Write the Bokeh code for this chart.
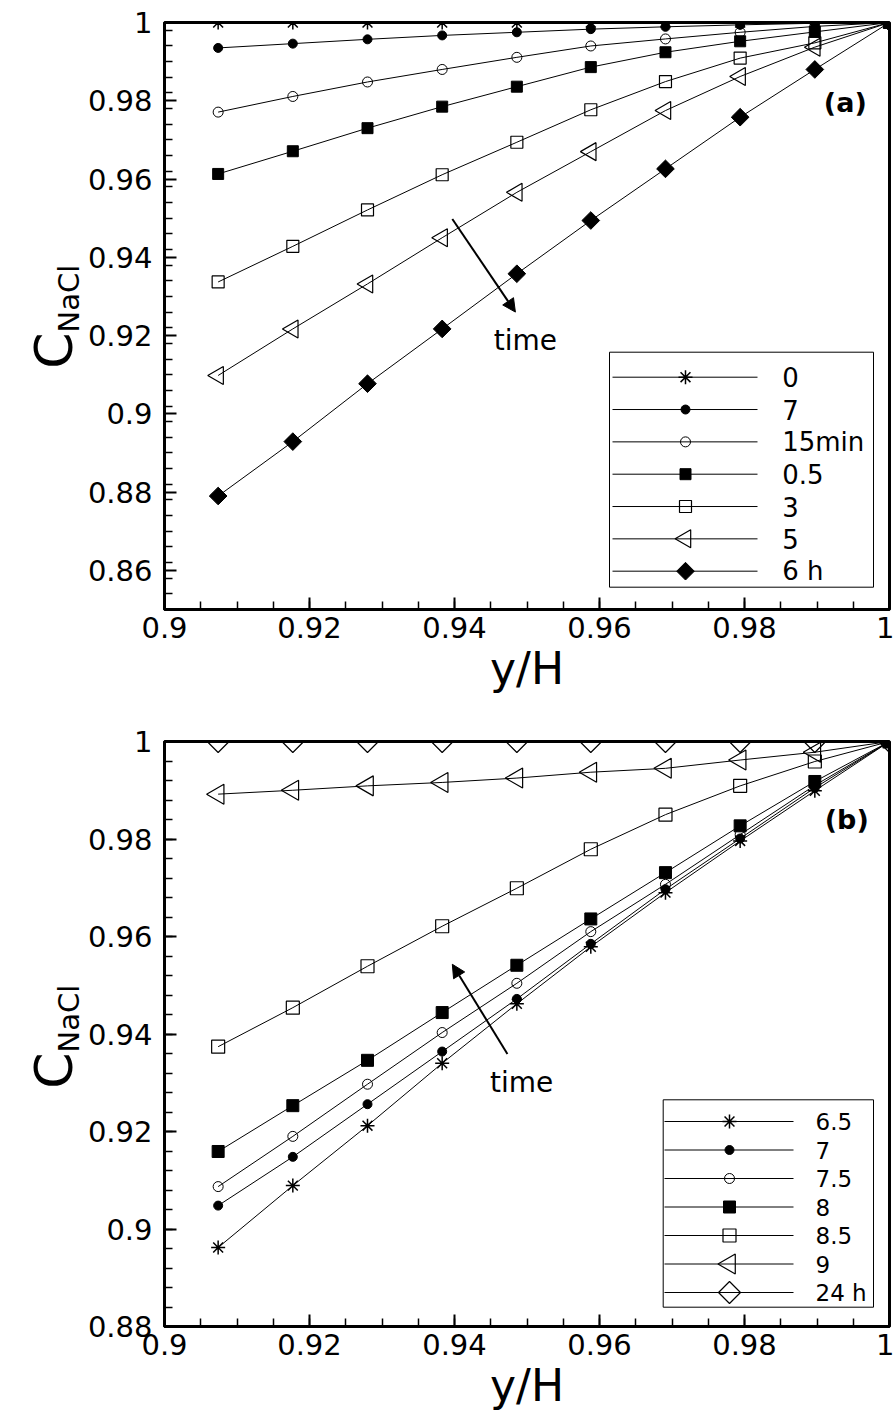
import math
from bokeh.plotting import figure
from bokeh.layouts import column, row
from bokeh.models import Range1d, FixedTicker, Label, Arrow, NormalHead
from bokeh.core.properties import value
from bokeh.embed import file_html
from bokeh.resources import INLINE

FONT = "DejaVu Sans"

# ---------------- data ----------------
y_over_H = [0.9074, 0.9177, 0.9280, 0.9383, 0.9486, 0.9588, 0.9691, 0.9794, 0.9897, 1.0]

# panel (a)
a_labels = ["0", "7", "15min", "0.5", "3", "5", "6 h"]
a_t0 = [1.0, 1.0, 1.0, 1.0, 1.0, 1.0, 1.0, 1.0, 1.0, 1.0]
a_t7min = [0.9935, 0.9946, 0.9957, 0.9967, 0.9975, 0.9983, 0.9989, 0.9994, 0.9998, 1.0]
a_t15min = [0.9771, 0.9811, 0.9848, 0.9880, 0.9911, 0.9940, 0.9958, 0.9975, 0.9990, 1.0]
a_t05h = [0.9613, 0.9671, 0.9730, 0.9785, 0.9836, 0.9886, 0.9924, 0.9952, 0.9976, 1.0]
a_t3h = [0.9337, 0.9428, 0.9521, 0.9611, 0.9694, 0.9777, 0.9849, 0.9909, 0.9948, 1.0]
a_t5h = [0.9098, 0.9217, 0.9332, 0.9450, 0.9566, 0.9670, 0.9775, 0.9862, 0.9937, 1.0]
a_t6h = [0.8790, 0.8929, 0.9077, 0.9217, 0.9358, 0.9494, 0.9626, 0.9758, 0.9880, 1.0]

# panel (b)
b_labels = ["6.5", "7", "7.5", "8", "8.5", "9", "24 h"]
b_t65h = [0.8962, 0.9089, 0.9212, 0.9340, 0.9462, 0.9579, 0.9690, 0.9796, 0.9899, 1.0]
b_t7h = [0.9048, 0.9148, 0.9256, 0.9364, 0.9472, 0.9585, 0.9697, 0.9801, 0.9905, 1.0]
b_t75h = [0.9087, 0.9190, 0.9297, 0.9403, 0.9504, 0.9610, 0.9707, 0.9809, 0.9910, 1.0]
b_t8h = [0.9159, 0.9253, 0.9346, 0.9444, 0.9541, 0.9636, 0.9731, 0.9827, 0.9918, 1.0]
b_t85h = [0.9374, 0.9454, 0.9539, 0.9621, 0.9699, 0.9779, 0.9850, 0.9909, 0.9959, 1.0]
b_t9h = [0.9892, 0.9900, 0.9909, 0.9916, 0.9925, 0.9937, 0.9945, 0.9962, 0.9978, 1.0]
b_t24h = [1.0, 1.0, 1.0, 1.0, 1.0, 1.0, 1.0, 1.0, 1.0, 1.0]

# ticks
x_ticks = [0.9, 0.92, 0.94, 0.96, 0.98, 1.0]
x_tick_labels = ["0.9", "0.92", "0.94", "0.96", "0.98", "1"]
a_y_ticks = [0.86, 0.88, 0.9, 0.92, 0.94, 0.96, 0.98, 1.0]
a_y_tick_labels = ["0.86", "0.88", "0.9", "0.92", "0.94", "0.96", "0.98", "1"]
b_y_ticks = [0.88, 0.9, 0.92, 0.94, 0.96, 0.98, 1.0]
b_y_tick_labels = ["0.88", "0.9", "0.92", "0.94", "0.96", "0.98", "1"]

x_minor = [round(0.9 + 0.005 * i, 4) for i in range(21)]
a_y_minor = [round(0.85 + 0.004 * i, 4) for i in range(38)]
b_y_minor = [round(0.88 + 0.004 * i, 4) for i in range(31)]

# marker styles: (marker, size, filled, line_width, angle)
a_styles = [
    ("asterisk", 14, False, 1.5, 0.0),
    ("circle", 9, True, 1.0, 0.0),
    ("circle", 10, False, 1.0, 0.0),
    ("square", 11, True, 1.0, 0.0),
    ("square", 12, False, 1.2, 0.0),
    ("triangle", 18, False, 1.2, math.pi / 2),
    ("square", 12.5, True, 1.0, math.pi / 4),
]
b_styles = [
    ("asterisk", 14, False, 1.5, 0.0),
    ("circle", 9, True, 1.0, 0.0),
    ("circle", 10, False, 1.0, 0.0),
    ("square", 12, True, 1.0, 0.0),
    ("square", 13, False, 1.2, 0.0),
    ("triangle", 20, False, 1.2, math.pi / 2),
    ("square", 15.5, False, 1.2, math.pi / 4),
]

X0, X1 = 0.9, 1.0
FRAME_W = 725
SIDE_W = 80          # narrow strip on the left that holds the C_NaCl title
A_TOP, A_H, A_BOT = 22, 587, 95
B_TOP, B_H, B_BOT = 37, 585, 90


def px_x(off):
    """horizontal pixel offset from the frame's left edge -> data x"""
    return X0 + off / FRAME_W * (X1 - X0)


def px_y(off, y0, y1, h):
    """pixel offset down from the frame's top edge -> data y"""
    return y1 - off / h * (y1 - y0)


def style_fig(p, yticks, ylabels, yminor):
    p.xaxis.ticker = FixedTicker(ticks=x_ticks, minor_ticks=x_minor)
    p.xaxis.major_label_overrides = dict(zip(x_ticks, x_tick_labels))
    p.yaxis.ticker = FixedTicker(ticks=yticks, minor_ticks=yminor)
    p.yaxis.major_label_overrides = dict(zip(yticks, ylabels))
    for ax in p.axis:
        ax.major_tick_in = 12
        ax.major_tick_out = 0
        ax.minor_tick_in = 8
        ax.minor_tick_out = 0
        ax.major_tick_line_width = 2
        ax.minor_tick_line_width = 1.5
        ax.major_tick_line_color = "black"
        ax.minor_tick_line_color = "black"
        ax.axis_line_width = 3
        ax.axis_line_color = "black"
        ax.major_label_text_font = FONT
        ax.major_label_text_font_size = "29px"
        ax.major_label_text_color = "black"
    p.yaxis.major_label_standoff = 12
    p.xaxis.major_label_standoff = 7
    p.xaxis.axis_label = "y/H"
    p.xaxis.axis_label_text_font = FONT
    p.xaxis.axis_label_text_font_size = "44px"
    p.xaxis.axis_label_text_font_style = "normal"
    p.xaxis.axis_label_text_color = "black"
    p.xaxis.axis_label_standoff = 2
    p.xgrid.visible = False
    p.ygrid.visible = False
    p.outline_line_color = "black"
    p.outline_line_width = 3
    p.background_fill_color = "white"
    p.border_fill_color = "white"


def add_series(p, series, styles):
    for ys, st in zip(series, styles):
        marker, size, filled, lw, ang = st
        p.line(y_over_H, ys, line_color="black", line_width=1)
        p.scatter(y_over_H, ys, marker=marker, size=size, angle=ang,
                  line_color="black", line_width=lw,
                  fill_color="black" if filled else None)


def add_legend(p, labels, styles, yr, h, box, rows0, pitch, line_l, line_r, mark_x, text_x, fs):
    y0, y1 = yr
    bl, br, bt, bb = box
    p.quad(left=[px_x(bl)], right=[px_x(br)], top=[px_y(bt, y0, y1, h)],
           bottom=[px_y(bb, y0, y1, h)], fill_color="white", line_color="black", line_width=1)
    rows = [px_y(rows0 + pitch * i, y0, y1, h) for i in range(len(labels))]
    p.segment(x0=[px_x(line_l)] * len(rows), x1=[px_x(line_r)] * len(rows), y0=rows, y1=rows,
              line_color="black", line_width=1)
    for ry, st in zip(rows, styles):
        marker, size, filled, lw, ang = st
        p.scatter([px_x(mark_x)], [ry], marker=marker, size=size, angle=ang,
                  line_color="black", line_width=lw,
                  fill_color="black" if filled else None)
    p.text(x=[px_x(text_x)] * len(rows), y=rows, text=labels, text_font=value(FONT),
           text_font_size=fs, text_align="left", text_baseline="middle", text_color="black")


def side_title(top, h, bot, c_center_off, sub_start_off):
    """narrow strip with the rotated C_NaCl axis title; its frame lines up with the
    panel's frame, coordinates are pixels measured up from the frame bottom"""
    s = figure(frame_width=SIDE_W, frame_height=h, min_border_left=0, min_border_right=0,
               min_border_top=top, min_border_bottom=bot,
               x_range=Range1d(0, SIDE_W), y_range=Range1d(0, h),
               output_backend="svg", toolbar_location=None,
               x_axis_location=None, y_axis_location=None)
    s.xgrid.visible = False
    s.ygrid.visible = False
    s.outline_line_color = None
    s.background_fill_color = "white"
    s.border_fill_color = "white"
    s.text(x=[53], y=[h - c_center_off], text=["C"], angle=math.pi / 2,
           text_font=value(FONT), text_font_size="52px", text_align="center",
           text_baseline="alphabetic", text_color="black")
    s.text(x=[68], y=[h - sub_start_off], text=["NaCl"], angle=math.pi / 2,
           text_font=value(FONT), text_font_size="29px", text_align="left",
           text_baseline="alphabetic", text_color="black")
    return s


# ---------------- panel (a) ----------------
A_Y = (0.85, 1.0)
pa = figure(frame_width=FRAME_W, frame_height=A_H, min_border_left=164 - SIDE_W,
            min_border_right=5, min_border_top=A_TOP, min_border_bottom=A_BOT,
            x_range=Range1d(X0, X1), y_range=Range1d(*A_Y),
            output_backend="svg", toolbar_location=None)
style_fig(pa, a_y_ticks, a_y_tick_labels, a_y_minor)
add_series(pa, [a_t0, a_t7min, a_t15min, a_t05h, a_t3h, a_t5h, a_t6h], a_styles)
add_legend(pa, a_labels, a_styles, A_Y, A_H, (445, 709, 329.7, 564.7), 354.7, 32.33,
           448, 593, 521, 617.7, "26px")
pa.add_layout(Arrow(end=NormalHead(size=13, fill_color="black", line_color="black"),
                    x_start=0.9397, y_start=0.9498, x_end=0.9484, y_end=0.9260,
                    line_width=2, line_color="black"))
pa.add_layout(Label(x=0.9454, y=0.9188, text="time", text_font=FONT, text_font_size="28px",
                    text_align="left", text_baseline="alphabetic", text_color="black"))
pa.add_layout(Label(x=0.9939, y=0.9796, text="(a)", text_font=FONT, text_font_size="27px",
                    text_font_style="bold", text_align="center", text_baseline="middle",
                    text_color="black"))
# C centre at page y 350, subscript starts at page y 332
sa = side_title(A_TOP, A_H, A_BOT, 350 - A_TOP, 332 - A_TOP)

# ---------------- panel (b) ----------------
B_Y = (0.88, 1.0)
pb = figure(frame_width=FRAME_W, frame_height=B_H, min_border_left=164 - SIDE_W,
            min_border_right=5, min_border_top=B_TOP, min_border_bottom=B_BOT,
            x_range=Range1d(X0, X1), y_range=Range1d(*B_Y),
            output_backend="svg", toolbar_location=None)
style_fig(pb, b_y_ticks, b_y_tick_labels, b_y_minor)
add_series(pb, [b_t65h, b_t7h, b_t75h, b_t8h, b_t85h, b_t9h, b_t24h], b_styles)
add_legend(pb, b_labels, b_styles, B_Y, B_H, (498.7, 709, 358.3, 565.7), 380, 28.5,
           500, 629, 565, 651, "23px")
pb.add_layout(Arrow(end=NormalHead(size=13, fill_color="black", line_color="black"),
                    x_start=0.9473, y_start=0.9359, x_end=0.9397, y_end=0.9543,
                    line_width=2, line_color="black"))
pb.add_layout(Label(x=0.9449, y=0.9300, text="time", text_font=FONT, text_font_size="28px",
                    text_align="left", text_baseline="alphabetic", text_color="black"))
pb.add_layout(Label(x=0.9941, y=0.9839, text="(b)", text_font=FONT, text_font_size="27px",
                    text_font_style="bold", text_align="center", text_baseline="middle",
                    text_color="black"))
# frame (b) starts at page y 741; C centre at 1070, subscript starts at 1052
B_FRAME_TOP = A_TOP + A_H + A_BOT + B_TOP
sb = side_title(B_TOP, B_H, B_BOT, 1070 - B_FRAME_TOP, 1052 - B_FRAME_TOP)

layout = column(row(sa, pa, spacing=0), row(sb, pb, spacing=0), spacing=0)
open("out.html", "w").write(file_html(layout, INLINE))
